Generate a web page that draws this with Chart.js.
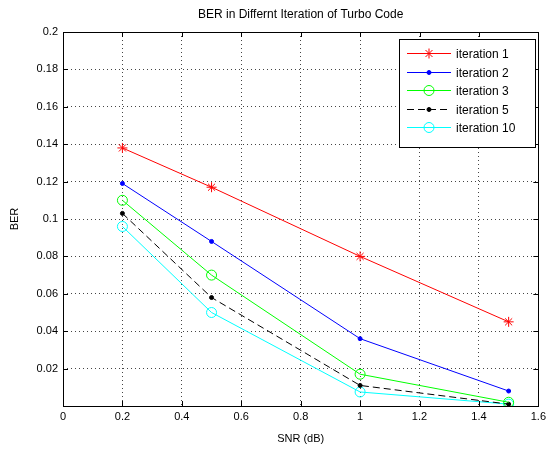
<!DOCTYPE html>
<html>
<head>
<meta charset="utf-8">
<script src="https://cdn.jsdelivr.net/npm/chart.js@4.4.0/dist/chart.umd.min.js"></script>
<style>
  html, body { margin: 0; padding: 0; background: #fff; }
  #wrap { width: 550px; height: 450px; }
</style>
</head>
<body>
<div id="wrap"><canvas id="berChart"></canvas></div>
<script>
// Data
const snr = [0.2, 0.5, 1, 1.5];
const iter1 = [0.138, 0.117, 0.080, 0.045];
const iter2 = [0.119, 0.088, 0.036, 0.008];
const iter3 = [0.110, 0.070, 0.017, 0.002];
const iter5 = [0.103, 0.058, 0.011, 0.001];
const iter10 = [0.096, 0.050, 0.0075, 0.001];
const seriesNames = ['iteration 1', 'iteration 2', 'iteration 3', 'iteration 5', 'iteration 10'];

const toPoints = (ys) => ys.map((y, i) => ({ x: snr[i], y }));
const FONT = 'Liberation Sans, Arial, sans-serif';

const fmt = (v) => String(Number(v.toFixed(2)));

// Box + inward ticks (MATLAB look)
const boxPlugin = {
    id: 'boxTicks',
    afterDraw(chart) {
        const { ctx, chartArea: a, scales } = chart;
        ctx.save();
        ctx.strokeStyle = '#000';
        ctx.lineWidth = 1;
        ctx.setLineDash([]);
        ctx.strokeRect(Math.round(a.left) + 0.5, Math.round(a.top) + 0.5,
            Math.round(a.right - a.left), Math.round(a.bottom - a.top));
        ctx.beginPath();
        scales.x.ticks.forEach(t => {
            const px = Math.round(scales.x.getPixelForValue(t.value)) + 0.5;
            ctx.moveTo(px, a.bottom); ctx.lineTo(px, a.bottom - 5);
            ctx.moveTo(px, a.top); ctx.lineTo(px, a.top + 5);
        });
        scales.y.ticks.forEach(t => {
            const py = Math.round(scales.y.getPixelForValue(t.value)) + 0.5;
            ctx.moveTo(a.left, py); ctx.lineTo(a.left + 5, py);
            ctx.moveTo(a.right, py); ctx.lineTo(a.right - 5, py);
        });
        ctx.stroke();
        ctx.restore();
    }
};

const drawMarker = (ctx, ds, x, y) => {
    const r = ds.pointRadius;
    ctx.setLineDash([]);
    ctx.strokeStyle = ds.borderColor;
    ctx.fillStyle = ds.pointBackgroundColor;
    ctx.beginPath();
    if (ds.pointStyle === 'star') {
        ctx.moveTo(x - r, y); ctx.lineTo(x + r, y);
        ctx.moveTo(x, y - r); ctx.lineTo(x, y + r);
        const d = r * 0.7;
        ctx.moveTo(x - d, y - d); ctx.lineTo(x + d, y + d);
        ctx.moveTo(x - d, y + d); ctx.lineTo(x + d, y - d);
        ctx.stroke();
    } else {
        ctx.arc(x, y, r, 0, Math.PI * 2);
        ctx.fill();
        ctx.stroke();
    }
};

// Legend drawn inside the axes, top right
const legendPlugin = {
    id: 'insideLegend',
    afterDraw(chart) {
        const { ctx } = chart;
        const x0 = 399, y0 = 39, w = 136, h = 108;
        ctx.save();
        ctx.fillStyle = '#fff';
        ctx.fillRect(x0, y0, w, h);
        ctx.strokeStyle = '#000';
        ctx.lineWidth = 1;
        ctx.setLineDash([]);
        ctx.strokeRect(x0 + 0.5, y0 + 0.5, w, h);
        ctx.font = '12px ' + FONT;
        ctx.textBaseline = 'middle';
        chart.data.datasets.forEach((ds, i) => {
            const y = Math.round(y0 + 14 + i * 18.6) + 0.5;
            ctx.strokeStyle = ds.borderColor;
            ctx.lineWidth = 1;
            ctx.setLineDash(ds.borderDash || []);
            ctx.beginPath();
            ctx.moveTo(x0 + 8, y); ctx.lineTo(x0 + 52, y);
            ctx.stroke();
            drawMarker(ctx, ds, x0 + 30, y);
            ctx.fillStyle = '#000';
            ctx.fillText(seriesNames[i], x0 + 57, y + 1);
        });
        ctx.restore();
    }
};

const makeSet = (label, ys, color, style, radius, fill, dash) => ({
    label,
    data: toPoints(ys),
    borderColor: color,
    backgroundColor: color,
    borderWidth: 1,
    borderDash: dash || [],
    pointStyle: style,
    pointRadius: radius,
    pointBorderWidth: 1,
    pointBackgroundColor: fill,
    pointBorderColor: color,
    tension: 0
});

const ctx = document.getElementById('berChart').getContext('2d');
new Chart(ctx, {
    type: 'line',
    data: {
        datasets: [
            makeSet(seriesNames[0], iter1, '#ff0000', 'star', 5, '#ff0000'),
            makeSet(seriesNames[1], iter2, '#0000ff', 'circle', 2, '#0000ff'),
            makeSet(seriesNames[2], iter3, '#00ff00', 'circle', 5, 'rgba(0,0,0,0)'),
            makeSet(seriesNames[3], iter5, '#000000', 'circle', 2, '#000000', [7, 4]),
            makeSet(seriesNames[4], iter10, '#00ffff', 'circle', 5, 'rgba(0,0,0,0)')
        ]
    },
    options: {
        responsive: true,
        maintainAspectRatio: false,
        animation: false,
        layout: { padding: { top: 32, left: 0, right: 10, bottom: 0 } },
        plugins: {
            legend: { display: false },
            tooltip: { enabled: false },
            title: { display: false }
        },
        scales: {
            x: {
                type: 'linear',
                min: 0,
                max: 1.6,
                ticks: {
                    stepSize: 0.2,
                    color: '#000',
                    font: { family: FONT, size: 11 },
                    padding: 4,
                    maxRotation: 0,
                    callback: (v) => fmt(v)
                },
                grid: {
                    color: '#444',
                    lineWidth: 1,
                    drawTicks: false,
                    tickLength: 0
                },
                border: { display: false, dash: [1, 3] },
                title: {
                    display: true,
                    text: 'SNR (dB)',
                    color: '#000',
                    font: { family: FONT, size: 11 },
                    padding: { top: 2 }
                },
                afterFit: (scale) => { scale.height = 44; }
            },
            y: {
                type: 'linear',
                min: 0,
                max: 0.2,
                ticks: {
                    stepSize: 0.02,
                    color: '#000',
                    font: { family: FONT, size: 11 },
                    padding: 5,
                    callback: (v) => (Math.abs(v) < 1e-9 ? '' : fmt(v))
                },
                grid: {
                    color: '#444',
                    lineWidth: 1,
                    drawTicks: false,
                    tickLength: 0
                },
                border: { display: false, dash: [1, 3] },
                title: {
                    display: true,
                    text: 'BER',
                    color: '#000',
                    font: { family: FONT, size: 11 },
                    padding: { top: 8, bottom: 4 }
                },
                afterFit: (scale) => { scale.width = 63; }
            }
        }
    },
    plugins: [boxPlugin, legendPlugin, {
        id: 'topTitle',
        afterDraw(chart) {
            const c = chart.ctx, a = chart.chartArea;
            c.save();
            c.font = '12px ' + FONT;
            c.fillStyle = '#000';
            c.textAlign = 'center';
            c.textBaseline = 'middle';
            c.fillText('BER in Differnt Iteration of Turbo Code', (a.left + a.right) / 2, 15);
            c.restore();
        }
    }]
});
</script>
</body>
</html>
